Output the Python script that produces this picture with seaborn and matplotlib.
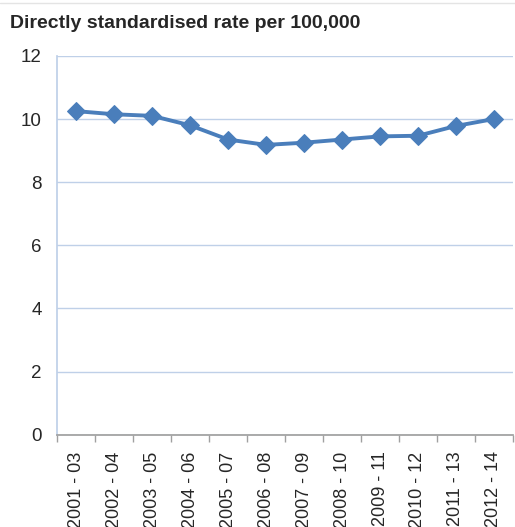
import matplotlib
matplotlib.use('Agg')
import matplotlib.pyplot as plt
import pandas as pd
import seaborn as sns

periods = ['2001 - 03', '2002 - 04', '2003 - 05', '2004 - 06', '2005 - 07', '2006 - 08',
           '2007 - 09', '2008 - 10', '2009 - 11', '2010 - 12', '2011 - 13', '2012 - 14']
rates = [10.25, 10.15, 10.1, 9.8, 9.35, 9.18, 9.25, 9.35, 9.45, 9.47, 9.78, 10.0]

sns.set_theme(style='white')
plt.rcParams['font.family'] = ['Liberation Sans', 'DejaVu Sans']

data = pd.DataFrame({'period': periods, 'rate': rates})
data['pos'] = range(len(periods))

fig = plt.figure(figsize=(5.15, 5.27), dpi=100)
ax = fig.add_axes([0.111, 0.175, 0.885, 0.719])

sns.lineplot(data=data, x='pos', y='rate', ax=ax, color='#4A7EBB', linewidth=2.8,
             marker='D', markersize=9, markeredgecolor='#4A7EBB')

grid_color = '#BFD0E8'
ax.set_ylim(0, 12)
ax.set_yticks(range(0, 13, 2))
ax.yaxis.grid(True, color=grid_color, linewidth=1)
ax.set_axisbelow(True)
ax.set_xlim(-0.5, len(periods) - 0.5)
ax.set_xticks(data['pos'])
ax.set_xticklabels(periods, rotation=90, fontsize=13)
ax.set_xticks([i - 0.5 for i in range(len(periods) + 1)], minor=True)
ax.tick_params(axis='x', which='major', length=0, pad=12)
ax.tick_params(axis='x', which='minor', length=5, color='#A0A0A0', direction='out',
               bottom=True)
ax.tick_params(axis='y', length=0, labelsize=13.5, pad=11)
ax.set_xlabel('')
ax.set_ylabel('')

for side in ['top', 'right']:
    ax.spines[side].set_visible(False)
ax.spines['left'].set_color(grid_color)
ax.spines['bottom'].set_color('#A0A0A0')

fig.text(0.019, 0.955, 'Directly standardised rate per 100,000', fontsize=14,
         fontweight='bold', va='center', ha='left')
fig.add_artist(plt.Line2D([0, 1], [0.994, 0.994], color='#E4E4E4', linewidth=1))

fig.savefig('out.png', dpi=100)
